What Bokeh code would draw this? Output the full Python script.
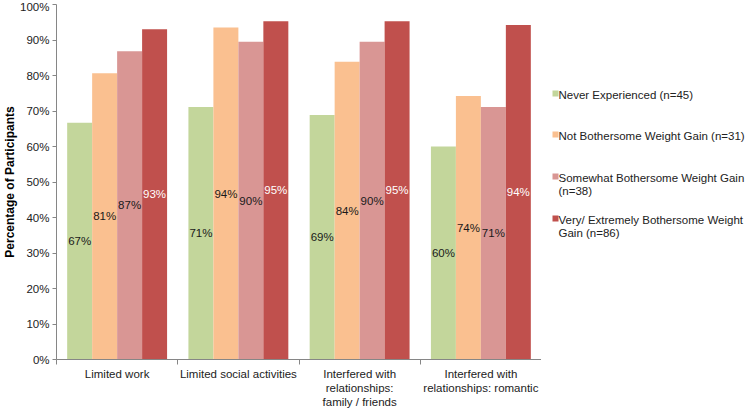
from bokeh.plotting import figure
from bokeh.layouts import row
from bokeh.models import (Range1d, FixedTicker, NumeralTickFormatter, ColumnDataSource)
from bokeh.core.properties import value
from bokeh.embed import file_html
from bokeh.resources import INLINE

categories = ["Limited work", "Limited social activities",
              "Interfered with\nrelationships:\nfamily / friends",
              "Interfered with\nrelationships: romantic"]
series_names = ["Never Experienced (n=45)",
                "Not Bothersome Weight Gain (n=31)",
                "Somewhat Bothersome Weight Gain\n(n=38)",
                "Very/ Extremely Bothersome Weight\nGain (n=86)"]
never_experienced = [66.7, 71.1, 68.9, 60.0]
not_bothersome = [80.6, 93.5, 83.9, 74.2]
somewhat_bothersome = [86.8, 89.5, 89.5, 71.1]
very_bothersome = [93.0, 95.3, 95.3, 94.2]
label_never = ["67%", "71%", "69%", "60%"]
label_not = ["81%", "94%", "84%", "74%"]
label_somewhat = ["87%", "90%", "90%", "71%"]
label_very = ["93%", "95%", "95%", "94%"]
y_ticks = [0, 10, 20, 30, 40, 50, 60, 70, 80, 90, 100]

colors = ["#C3D69B", "#FAC090", "#D99694", "#C0504D"]
label_colors = ["#1a1a1a", "#1a1a1a", "#1a1a1a", "#ffffff"]
series = [never_experienced, not_bothersome, somewhat_bothersome, very_bothersome]
labels = [label_never, label_not, label_somewhat, label_very]

FONT = "Liberation Sans"
bar_w = 0.206
offsets = [-1.5 * bar_w, -0.5 * bar_w, 0.5 * bar_w, 1.5 * bar_w]
FRAME_W, FRAME_H = 485, 355
TOP = 4
LEG_W = 205
# legend layout (px, measured down from the top of the plot frame)
leg_row_y = [90, 131, 173, 215]
leg_line_h = 13
leg_glyph_x, leg_text_x, leg_glyph_size = 14, 17, 6

p = figure(frame_width=FRAME_W, frame_height=FRAME_H, output_backend="svg",
           toolbar_location=None,
           x_range=Range1d(0, len(categories)), y_range=Range1d(0, 1),
           min_border_left=0, min_border_top=TOP, min_border_bottom=0, min_border_right=0)
p.outline_line_color = None
p.xgrid.visible = False
p.ygrid.visible = False

centers = [i + 0.5 for i in range(len(categories))]
for k, (vals, labs) in enumerate(zip(series, labels)):
    src = ColumnDataSource(dict(
        x=[c + offsets[k] for c in centers],
        top=[v / 100 for v in vals],
        ymid=[v / 200 for v in vals],
        lab=labs))
    p.vbar(x="x", top="top", width=bar_w, source=src, fill_color=colors[k],
           line_color=None)
    p.text(x="x", y="ymid", text="lab", source=src, text_align="center",
           text_baseline="middle", text_font=value(FONT), text_font_size="11.5px",
           text_color=label_colors[k])

# x axis
xa = p.xaxis[0]
xa.ticker = FixedTicker(ticks=centers, minor_ticks=list(range(len(categories) + 1)))
xa.major_label_overrides = {c: lab for c, lab in zip(centers, categories)}
xa.major_tick_line_color = None
xa.major_tick_out = 0
xa.major_tick_in = 0
xa.minor_tick_line_color = "#868686"
xa.minor_tick_out = 5
xa.minor_tick_in = 0
xa.axis_line_color = "#868686"
xa.major_label_text_font = FONT
xa.major_label_text_font_size = "11.5px"
xa.major_label_text_color = "#222222"
xa.major_label_standoff = 3

# y axis
ya = p.yaxis[0]
ya.ticker = FixedTicker(ticks=[t / 100 for t in y_ticks])
ya.formatter = NumeralTickFormatter(format="0%")
ya.axis_line_color = "#868686"
ya.major_tick_line_color = "#868686"
ya.major_tick_out = 4
ya.major_tick_in = 0
ya.minor_tick_line_color = None
ya.major_label_text_font = FONT
ya.major_label_text_font_size = "11.5px"
ya.major_label_text_color = "#222222"
ya.major_label_standoff = 3
ya.axis_label = "Percentage of Participants"
ya.axis_label_text_font = FONT
ya.axis_label_text_font_style = "bold"
ya.axis_label_text_font_size = "12px"
ya.axis_label_text_color = "#000000"
ya.axis_label_standoff = 0

# legend panel
lg = figure(frame_width=LEG_W, frame_height=FRAME_H, output_backend="svg",
            toolbar_location=None, x_range=Range1d(0, LEG_W), y_range=Range1d(FRAME_H, 0),
            min_border_left=0, min_border_right=0, min_border_top=TOP, min_border_bottom=0)
lg.axis.visible = False
lg.grid.visible = False
lg.outline_line_color = None
gx, gy, gc, tx, ty, tt = [], [], [], [], [], []
for k, name in enumerate(series_names):
    gx.append(leg_glyph_x)
    gy.append(leg_row_y[k] - 1)
    gc.append(colors[k])
    for j, line in enumerate(name.split("\n")):
        tx.append(leg_text_x)
        ty.append(leg_row_y[k] + j * leg_line_h)
        tt.append(line)
lg.rect(x=gx, y=gy, width=leg_glyph_size, height=leg_glyph_size, fill_color=gc,
        line_color=None, width_units="screen", height_units="screen")
lg.text(x=tx, y=ty, text=tt, text_align="left", text_baseline="middle",
        text_font=value(FONT), text_font_size="11.5px", text_color="#222222")

layout = row(p, lg)
open("out.html", "w").write(file_html(layout, INLINE))
